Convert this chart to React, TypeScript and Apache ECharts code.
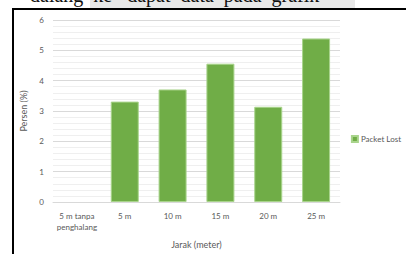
import React, { useEffect, useRef } from "react";
import * as echarts from "echarts";

const categories = ["5 m tanpa\npenghalang", "5 m", "10 m", "15 m", "20 m", "25 m"];
const packetLost = [0, 3.31, 3.71, 4.56, 3.14, 5.39];
const seriesName = "Packet Lost";
const yAxisTitle = "Persen (%)";
const xAxisTitle = "Jarak (meter)";
const topText = "dalang  ke   dapat  data  pada  grafik";

export default function App() {
  const ref = useRef<HTMLDivElement>(null);
  useEffect(() => {
    if (!ref.current) return;
    const chart = echarts.init(ref.current, null, { renderer: "svg" });
    const font = "Lato, 'Open Sans', sans-serif";
    chart.setOption({
      animation: false,
      backgroundColor: "#ffffff",
      textStyle: { fontFamily: font },
      grid: { left: 53, right: 66, top: 20, bottom: 51 },
      legend: {
        right: 0,
        top: 130,
        orient: "vertical",
        icon: "rect",
        itemWidth: 6,
        itemHeight: 6,
        itemGap: 4,
        textStyle: { fontSize: 8, color: "#595959", fontFamily: font, padding: [0, 0, 0, -2] },
        data: [seriesName],
      },
      xAxis: {
        type: "category",
        data: categories,
        name: xAxisTitle,
        nameLocation: "middle",
        nameGap: 38,
        nameTextStyle: { fontSize: 9, color: "#595959", fontFamily: font },
        axisLine: { lineStyle: { color: "#d9d9d9" } },
        axisTick: { show: false },
        axisLabel: { interval: 0, fontSize: 8, color: "#595959", margin: 8, lineHeight: 11, fontFamily: font },
      },
      yAxis: {
        type: "value",
        min: 0,
        max: 6,
        interval: 1,
        name: yAxisTitle,
        nameLocation: "middle",
        nameGap: 23,
        nameTextStyle: { fontSize: 9, color: "#595959", fontFamily: font },
        axisLine: { show: false },
        axisTick: { show: false },
        axisLabel: { fontSize: 8, color: "#595959", margin: 9, fontFamily: font },
        splitLine: { lineStyle: { color: "#d9d9d9", width: 1 } },
        minorTick: { show: false, splitNumber: 5 },
        minorSplitLine: { show: true, lineStyle: { color: "#efefef", width: 1 } },
      },
      series: [
        {
          name: seriesName,
          type: "bar",
          barWidth: 28,
          data: packetLost.map((v) => ({
            value: v,
            itemStyle: v === 0 ? { borderWidth: 0 } : {},
          })),
          itemStyle: { color: "#70ad47", borderColor: "#a9d48c", borderWidth: 1 },
        },
      ],
      graphic: [
        { type: "rect", shape: { x: 90, y: 0, width: 265, height: 8 }, style: { fill: "#e8e8e8" } },
        {
          type: "text",
          x: 30,
          y: -15,
          style: { text: topText, font: "20px 'Liberation Serif', serif", fill: "#111" },
        },
        { type: "rect", shape: { x: 12, y: 8, width: 394, height: 2 }, style: { fill: "#000" } },
        { type: "rect", shape: { x: 12, y: 8, width: 2, height: 246 }, style: { fill: "#000" } },
      ],
    });
    return () => chart.dispose();
  }, []);
  return <div ref={ref} style={{ position: "fixed", left: 0, top: 0, width: 406, height: 254 }} />;
}
